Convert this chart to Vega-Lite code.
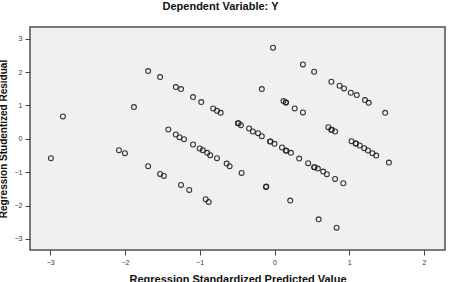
{
  "$schema": "https://vega.github.io/schema/vega-lite/v6.json",
  "width": 415,
  "height": 223,
  "autosize": "none",
  "padding": {"left": 30, "top": 27, "right": 4, "bottom": 32},
  "background": "white",
  "config": {
    "font": "Liberation Sans",
    "view": {"fill": "#f0f0f0", "stroke": "#505050", "strokeWidth": 1.5},
    "axis": {
      "grid": false,
      "domain": false,
      "tickColor": "#444",
      "tickSize": 5,
      "labelFontSize": 7,
      "labelColor": "#333",
      "labelPadding": 3,
      "titleFontWeight": "bold",
      "titleFontSize": 11,
      "titleColor": "#111"
    }
  },
  "title": {
    "text": "Dependent Variable: Y",
    "fontSize": 11,
    "fontWeight": "bold",
    "color": "#111",
    "anchor": "middle",
    "offset": 15,
    "dx": -17
  },
  "data": {
    "values": [
      {"pred": -2.99, "resid": -0.58},
      {"pred": -2.83, "resid": 0.67},
      {"pred": -1.88, "resid": 0.95},
      {"pred": -2.08, "resid": -0.34},
      {"pred": -2.00, "resid": -0.43},
      {"pred": -1.69, "resid": -0.82},
      {"pred": -1.53, "resid": -1.05},
      {"pred": -1.48, "resid": -1.11},
      {"pred": -1.25, "resid": -1.38},
      {"pred": -1.14, "resid": -1.53},
      {"pred": -0.92, "resid": -1.81},
      {"pred": -0.88, "resid": -1.89},
      {"pred": -1.69, "resid": 2.03},
      {"pred": -1.53, "resid": 1.85},
      {"pred": -1.32, "resid": 1.55},
      {"pred": -1.25, "resid": 1.49},
      {"pred": -1.09, "resid": 1.25},
      {"pred": -0.98, "resid": 1.10},
      {"pred": -0.82, "resid": 0.91},
      {"pred": -0.77, "resid": 0.84},
      {"pred": -0.72, "resid": 0.78},
      {"pred": -0.49, "resid": 0.47},
      {"pred": -0.48, "resid": 0.47},
      {"pred": -0.45, "resid": 0.41},
      {"pred": -0.34, "resid": 0.31},
      {"pred": -0.29, "resid": 0.22},
      {"pred": -0.22, "resid": 0.17},
      {"pred": -0.17, "resid": 0.08},
      {"pred": -0.06, "resid": -0.08},
      {"pred": -0.055, "resid": -0.08},
      {"pred": 0.00, "resid": -0.15},
      {"pred": 0.10, "resid": -0.26},
      {"pred": 0.15, "resid": -0.35},
      {"pred": 0.16, "resid": -0.36},
      {"pred": 0.22, "resid": -0.42},
      {"pred": 0.33, "resid": -0.59},
      {"pred": 0.45, "resid": -0.73},
      {"pred": 0.53, "resid": -0.85},
      {"pred": 0.535, "resid": -0.85},
      {"pred": 0.58, "resid": -0.89},
      {"pred": 0.65, "resid": -0.98},
      {"pred": 0.70, "resid": -1.06},
      {"pred": 0.81, "resid": -1.20},
      {"pred": 0.92, "resid": -1.33},
      {"pred": -1.42, "resid": 0.28},
      {"pred": -1.32, "resid": 0.13},
      {"pred": -1.27, "resid": 0.05},
      {"pred": -1.21, "resid": -0.01},
      {"pred": -1.09, "resid": -0.17},
      {"pred": -1.00, "resid": -0.29},
      {"pred": -0.96, "resid": -0.34},
      {"pred": -0.90, "resid": -0.42},
      {"pred": -0.86, "resid": -0.49},
      {"pred": -0.77, "resid": -0.58},
      {"pred": -0.64, "resid": -0.74},
      {"pred": -0.60, "resid": -0.82},
      {"pred": -0.44, "resid": -1.02},
      {"pred": -0.115, "resid": -1.44},
      {"pred": -0.11, "resid": -1.43},
      {"pred": 0.21, "resid": -1.85},
      {"pred": 0.59, "resid": -2.41},
      {"pred": 0.83, "resid": -2.66},
      {"pred": -0.02, "resid": 2.73},
      {"pred": 0.38, "resid": 2.23},
      {"pred": 0.53, "resid": 2.01},
      {"pred": 0.76, "resid": 1.71},
      {"pred": 0.87, "resid": 1.59},
      {"pred": 0.93, "resid": 1.51},
      {"pred": 1.02, "resid": 1.38},
      {"pred": 1.10, "resid": 1.31},
      {"pred": 1.21, "resid": 1.16},
      {"pred": 1.26, "resid": 1.08},
      {"pred": 1.48, "resid": 0.78},
      {"pred": -0.17, "resid": 1.49},
      {"pred": 0.12, "resid": 1.13},
      {"pred": 0.15, "resid": 1.09},
      {"pred": 0.155, "resid": 1.09},
      {"pred": 0.27, "resid": 0.91},
      {"pred": 0.38, "resid": 0.79},
      {"pred": 0.72, "resid": 0.35},
      {"pred": 0.76, "resid": 0.27},
      {"pred": 0.765, "resid": 0.27},
      {"pred": 0.81, "resid": 0.22},
      {"pred": 1.03, "resid": -0.07},
      {"pred": 1.09, "resid": -0.14},
      {"pred": 1.085, "resid": -0.14},
      {"pred": 1.14, "resid": -0.20},
      {"pred": 1.20, "resid": -0.28},
      {"pred": 1.25, "resid": -0.35},
      {"pred": 1.31, "resid": -0.43},
      {"pred": 1.36, "resid": -0.50},
      {"pred": 1.53, "resid": -0.71}
    ]
  },
  "mark": {
    "type": "point",
    "shape": "circle",
    "filled": false,
    "stroke": "#222",
    "strokeWidth": 1.1,
    "opacity": 0.9,
    "size": 24
  },
  "encoding": {
    "x": {
      "field": "pred",
      "type": "quantitative",
      "title": "Regression Standardized Predicted Value",
      "scale": {"domain": [-3.27, 2.28], "nice": false, "zero": false},
      "axis": {"values": [-3, -2, -1, 0, 1, 2], "titlePadding": 8}
    },
    "y": {
      "field": "resid",
      "type": "quantitative",
      "title": "Regression Studentized Residual",
      "scale": {"domain": [-3.33, 3.35], "nice": false, "zero": false},
      "axis": {"values": [-3, -2, -1, 0, 1, 2, 3], "titlePadding": 6, "titleFontSize": 10}
    }
  }
}
